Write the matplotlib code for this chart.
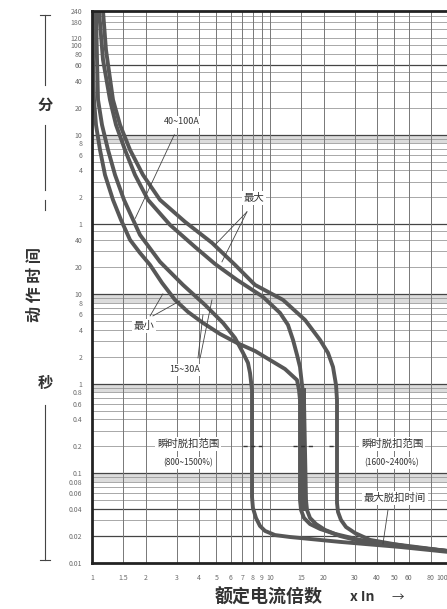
import numpy as np
import matplotlib.pyplot as plt
from matplotlib.transforms import blended_transform_factory

plt.rcParams['font.family'] = ['Noto Sans CJK SC', 'DejaVu Sans']

# x: multiple of rated current (x In), y: trip time in seconds
# curve that ends in the 15 In band (left edge)
a_in = [1.013, 1.013, 1.026, 1.053, 1.109, 1.183, 1.312, 1.455, 1.635, 1.860,
        2.118, 2.474, 2.927, 3.46, 4.204, 5.24, 6.527, 8.24, 10.0, 12.14,
        14.18, 14.55, 14.74, 14.74, 14.94, 15.52, 16.78, 19.10, 23.19, 32.03,
        53.75, 100.0]
a_t = [14400, 4111, 1471, 773, 406.8, 213.9, 112.5, 67.3, 40.3, 28.8,
       21.2, 13.34, 8.62, 6.33, 4.77, 3.59, 2.85, 2.32, 1.84, 1.46,
       1.10, 0.853, 0.659, 0.0505, 0.039, 0.0318, 0.0272, 0.0240, 0.0211, 0.0181,
       0.0155, 0.0136]
# curve that ends at 8 In
b_in = [1.053, 1.067, 1.081, 1.138, 1.230, 1.347, 1.513, 1.860, 2.410, 3.245,
        4.314, 5.445, 6.36, 7.054, 7.52, 7.721, 7.923, 7.923, 7.923, 8.02,
        8.34, 8.785, 9.374, 10.67, 12.95, 24.74, 53.75, 100.0]
b_t = [14400, 4111, 1471, 773, 406.8, 213.9, 112.5, 45.8, 22.9, 12.67,
       7.58, 4.77, 3.24, 2.21, 1.71, 1.32, 0.853, 0.659, 0.0545, 0.0411,
       0.0318, 0.0259, 0.0228, 0.0205, 0.0195, 0.0172, 0.0151, 0.0133]
# curve that ends in the 15 In band (right edge)
c_in = [1.095, 1.153, 1.262, 1.364, 1.532, 1.744, 2.064, 2.743, 3.790, 4.91,
        6.527, 9.135, 11.38, 12.62, 13.47, 14.18, 14.74, 15.13, 15.52, 15.93,
        16.14, 16.78, 18.13, 20.37, 24.74, 32.03, 53.75, 100.0]
c_t = [14400, 4111, 1471, 773, 406.8, 213.9, 112.5, 59.2, 33.6, 21.7,
       14.41, 9.31, 6.17, 4.53, 3.08, 2.10, 1.54, 0.970, 0.659, 0.0505,
       0.039, 0.0318, 0.0272, 0.0234, 0.0200, 0.0176, 0.0159, 0.0136]
# curve that ends at 24 In
d_in = [1.153, 1.198, 1.312, 1.437, 1.635, 1.933, 2.410, 3.332, 4.723, 6.36,
        8.236, 11.83, 15.73, 19.10, 21.17, 22.59, 23.49, 23.79, 23.79, 24.10,
        25.05, 26.73, 30.02, 36.47, 61.16, 100.0]
d_t = [14400, 5313, 1471, 773, 406.8, 213.9, 112.5, 64.0, 37.3, 21.2,
       12.67, 8.62, 5.15, 3.08, 2.21, 1.54, 0.970, 0.659, 0.0467, 0.0371,
       0.0302, 0.0252, 0.0216, 0.0181, 0.0151, 0.0136]

# thick band of the 15 In instantaneous trip
band_t = [0.038, 0.9]
band_lo = 14.74
band_hi = 15.93

x_ticks = [1, 1.5, 2, 3, 4, 5, 6, 7, 8, 9, 10, 15, 20, 30, 40, 50, 60, 80, 100]
x_labels = ['1', '1.5', '2', '3', '4', '5', '6', '7', '8', '9', '10',
            '15', '20', '30', '40', '50', '60', '80', '100']
y_ticks = [0.01, 0.02, 0.04, 0.06, 0.08, 0.1, 0.2, 0.4, 0.6, 0.8, 1, 2, 4, 6, 8,
           10, 20, 40, 60, 120, 240, 360, 480, 600, 1200, 2400, 3600, 4800,
           6000, 7200, 10800, 14400]
y_labels = ['0.01', '0.02', '0.04', '0.06', '0.08', '0.1', '0.2', '0.4', '0.6',
            '0.8', '1', '2', '4', '6', '8', '10', '20', '40', '1', '2', '4', '6',
            '8', '10', '20', '40', '60', '80', '100', '120', '180', '240']

# instantaneous trip range markers (t = 0.2 s)
range_t = 0.2
range_segs = [(7.05, 9.0), (13.5, 17.6), (21.4, 23.2)]

line_col = '#575757'
grid_col = '#9a9a9a'

fig = plt.figure(figsize=(4.47, 6.09), dpi=100)
ax = fig.add_axes([92 / 447, 46 / 609, 356 / 447, 552 / 609])
ax.set_xscale('log')
ax.set_yscale('log')
ax.set_xlim(1, 100)
ax.set_ylim(0.01, 14400)

# background grid
h_grid = np.concatenate([np.arange(1, 10) * 0.01, np.arange(1, 10) * 0.1,
                         np.arange(1, 10), [10, 20, 30, 40, 50],
                         np.arange(1, 10) * 60, np.arange(1, 6) * 600,
                         [3600, 4800, 6000, 7200, 9000, 10800, 12600]])
for v in h_grid:
    ax.axhline(v, color=grid_col, lw=0.6, zorder=1)
for v in [0.02, 0.04, 0.1, 1, 10, 60, 600, 3600]:
    ax.axhline(v, color='#444444', lw=0.9, zorder=1)
for v in x_ticks:
    ax.axvline(v, color='#777777', lw=0.7, zorder=1)
for lo, hi in [(0.08, 0.1), (0.8, 1.0), (8, 10), (480, 600)]:
    ax.axhspan(lo, hi, color='#dcdcdc', zorder=0, lw=0)

# curves
for xs, ys in [(a_in, a_t), (b_in, b_t), (c_in, c_t), (d_in, d_t)]:
    ax.plot(xs, ys, color=line_col, lw=2.8, solid_joinstyle='round',
            solid_capstyle='round', zorder=3)
ax.fill_betweenx(band_t, band_lo, band_hi, color=line_col, zorder=3, lw=0)

for lo, hi in range_segs:
    ax.plot([lo, hi], [range_t, range_t], color='#333333', lw=1.0,
            ls=(0, (3, 2.5)), zorder=4)

# text labels
lbl = dict(ha='center', va='center', color='#333333', zorder=5)
box = dict(facecolor='white', edgecolor='none', pad=1.2)
ax.text(3.2, 836, '40~100A', fontsize=6.5, bbox=box, **lbl)
ax.text(8.13, 118, '最大', fontsize=7.5, bbox=box, **lbl)
ax.text(1.95, 4.4, '最小', fontsize=7.5, bbox=box, **lbl)
ax.text(3.33, 1.43, '15~30A', fontsize=6.5, bbox=box, **lbl)
ax.text(3.46, 0.213, '瞬时脱扣范围', fontsize=7.5, bbox=box, **lbl)
ax.text(3.46, 0.131, '(800~1500%)', fontsize=6, bbox=box, **lbl)
ax.text(48.5, 0.213, '瞬时脱扣范围', fontsize=7.5, bbox=box, **lbl)
ax.text(48.5, 0.131, '(1600~2400%)', fontsize=6, bbox=box, **lbl)
ax.text(50.4, 0.053, '最大脱扣时间', fontsize=7.5, bbox=box, **lbl)

# leader lines
lead = dict(color='#444444', lw=0.6, zorder=4)
ax.plot([2.9, 1.75], [600, 70], **lead)
ax.plot([7.42, 4.91], [82.7, 35.4], **lead)
ax.plot([7.42, 5.37], [82.7, 22.9], **lead)
ax.plot([2.12, 2.50], [5.71, 10.05], **lead)
ax.plot([2.20, 3.12], [5.71, 8.40], **lead)
ax.plot([3.94, 4.20], [1.94, 5.86], **lead)
ax.plot([4.05, 4.72], [1.94, 8.62], **lead)
ax.plot([46.0, 43.1], [0.039, 0.0163], **lead)

# ticks
ax.set_xticks(x_ticks)
ax.set_xticklabels(x_labels)
ax.set_yticks(y_ticks)
ax.set_yticklabels(y_labels)
ax.minorticks_off()
ax.tick_params(axis='both', length=0, labelsize=5, labelcolor='#6a6a6a')
ax.tick_params(axis='x', pad=8)
ax.tick_params(axis='y', pad=7)
ax.get_xticklabels()[-1].set_horizontalalignment('right')

for s in ['top', 'left', 'bottom']:
    ax.spines[s].set_linewidth(2.0)
    ax.spines[s].set_color('#222222')
    ax.spines[s].set_zorder(6)
ax.spines['right'].set_visible(False)

# left side: unit brackets and axis title
tr = blended_transform_factory(fig.transFigure, ax.transData)
bx = 45 / 447
bk = dict(color='#444444', lw=0.8, transform=tr, clip_on=False)
ax.plot([bx, bx], [13060, 2163], **bk)
ax.plot([bx - 0.012, bx + 0.012], [13060, 13060], **bk)
ax.plot([bx, bx], [773, 145], **bk)
ax.plot([bx, bx], [112, 87], **bk)
ax.plot([bx, bx], [0.58, 0.0108], **bk)
ax.plot([bx - 0.012, bx + 0.012], [0.0108, 0.0108], **bk)
ax.text(bx, 1293, '分', transform=tr, fontsize=11, fontweight='bold',
        ha='center', va='center', color='#333333')
ax.text(bx, 1.02, '秒', transform=tr, fontsize=11, fontweight='bold',
        ha='center', va='center', color='#333333')
ax.text(35 / 447, 12.7, '动 作 时 间', transform=tr, fontsize=11.5,
        fontweight='bold', rotation=90, ha='center', va='center',
        color='#333333')

fig.text(269 / 447, 1 - 597 / 609, '额定电流倍数', fontsize=13,
         fontweight='bold', ha='center', va='center', color='#333333')
fig.text(362 / 447, 1 - 597 / 609, 'x In', fontsize=10, fontweight='bold',
         ha='center', va='center', color='#333333')
fig.text(398 / 447, 1 - 597 / 609, '→', fontsize=9, ha='center',
         va='center', color='#333333')

fig.savefig('out.png', dpi=100)
